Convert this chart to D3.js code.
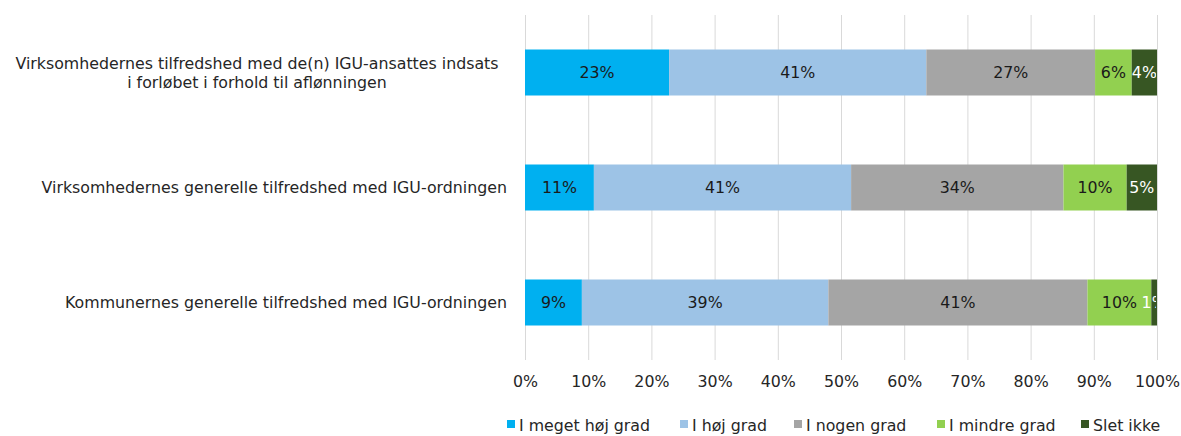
<!DOCTYPE html>
<html>
<head>
<meta charset="utf-8">
<script src="https://cdn.jsdelivr.net/npm/d3@7"></script>
<style>
  body { margin: 0; background: #fff; }
  svg text { font-family: "DejaVu Sans", Verdana, sans-serif; fill: #262626; }
</style>
</head>
<body>
<svg id="chart"></svg>
<script>
// categories (top to bottom), label lines
const categories = [
  ["Virksomhedernes tilfredshed med de(n) IGU-ansattes indsats", "i forløbet i forhold til aflønningen"],
  ["Virksomhedernes generelle tilfredshed med IGU-ordningen"],
  ["Kommunernes generelle tilfredshed med IGU-ordningen"]
];
const seriesNames = ["I meget høj grad", "I høj grad", "I nogen grad", "I mindre grad", "Slet ikke"];
const seriesColors = ["#00B0F0", "#9DC3E6", "#A5A5A5", "#92D050", "#375623"];
// shares per series, one value per category
const meget = [22.8, 10.9, 9.0];
const hoej = [40.7, 40.7, 39.0];
const nogen = [26.7, 33.6, 41.0];
const mindre = [5.8, 10.0, 10.1];
const slet = [4.0, 4.8, 0.9];
const xTicks = [0, 10, 20, 30, 40, 50, 60, 70, 80, 90, 100];

const width = 1181, height = 436;
const margin = { top: 15, right: 24, bottom: 76, left: 525 };
const innerW = width - margin.left - margin.right;
const innerH = height - margin.top - margin.bottom;
const fs = "15.8px";

const svg = d3.select("#chart").attr("width", width).attr("height", height);
svg.append("defs").append("clipPath").attr("id", "lblclip")
  .append("rect").attr("x", -5).attr("y", -5).attr("width", innerW + 4).attr("height", innerH + 10);

const g = svg.append("g").attr("transform", `translate(${margin.left},${margin.top})`);

const x = d3.scaleLinear().domain([0, 100]).range([0, innerW]);
const y = d3.scaleBand().domain(d3.range(categories.length)).range([0, innerH]).paddingInner(0.6).paddingOuter(0.3);

// gridlines
g.append("g").selectAll("line")
  .data(xTicks)
  .join("line")
  .attr("x1", d => x(d) + 0.5).attr("x2", d => x(d) + 0.5)
  .attr("y1", 0).attr("y2", innerH)
  .attr("stroke", "#d9d9d9").attr("stroke-width", 1);

// x axis labels
const xAxis = g.append("g")
  .attr("transform", `translate(0,${innerH})`)
  .call(d3.axisBottom(x).tickValues(xTicks).tickFormat(d => d + "%").tickSize(0).tickPadding(16));
xAxis.select(".domain").remove();
xAxis.selectAll("text").style("font-size", fs).attr("fill", "#262626");

// stack
const rows = categories.map((c, i) => ({ i, s0: meget[i], s1: hoej[i], s2: nogen[i], s3: mindre[i], s4: slet[i] }));
const stack = d3.stack().keys(["s0", "s1", "s2", "s3", "s4"])(rows);

const layers = g.selectAll(".layer")
  .data(stack)
  .join("g")
  .attr("class", "layer")
  .attr("fill", (d, k) => seriesColors[k]);

layers.selectAll("rect")
  .data(d => d)
  .join("rect")
  .attr("x", d => x(d[0]))
  .attr("y", d => y(d.data.i))
  .attr("width", d => x(d[1]) - x(d[0]))
  .attr("height", y.bandwidth());

layers.append("g").attr("clip-path", "url(#lblclip)")
  .selectAll("text")
  .data((d, k) => d.map(p => ({ p, k })))
  .join("text")
  .attr("x", d => (x(d.p[0]) + x(d.p[1])) / 2)
  .attr("y", d => y(d.p.data.i) + y.bandwidth() / 2)
  .attr("dy", "0.35em")
  .attr("text-anchor", "middle")
  .style("font-size", fs)
  .style("fill", d => d.k === 4 ? "#ffffff" : "#1a1a1a")
  .text(d => Math.round(d.p[1] - d.p[0]) + "%");

// category labels
const catG = svg.append("g");
categories.forEach((lines, i) => {
  const cy = margin.top + y(i) + y.bandwidth() / 2;
  const multi = lines.length > 1;
  const t = catG.append("text")
    .attr("text-anchor", multi ? "middle" : "end")
    .style("font-size", fs);
  lines.forEach((ln, j) => {
    t.append("tspan")
      .attr("x", multi ? 257 : 507)
      .attr("y", cy + (j - (lines.length - 1) / 2) * 19)
      .attr("dy", "0.35em")
      .text(ln);
  });
});

// legend
const legendX = [507, 680, 794, 937, 1081];
const leg = svg.append("g").attr("transform", `translate(0,425)`);
seriesNames.forEach((name, k) => {
  const item = leg.append("g").attr("transform", `translate(${legendX[k]},0)`);
  item.append("rect").attr("x", 0).attr("y", -5).attr("width", 8).attr("height", 8).attr("fill", seriesColors[k]);
  item.append("text").attr("x", 12).attr("y", 0).attr("dy", "0.35em").style("font-size", fs).text(name);
});
</script>
</body>
</html>
